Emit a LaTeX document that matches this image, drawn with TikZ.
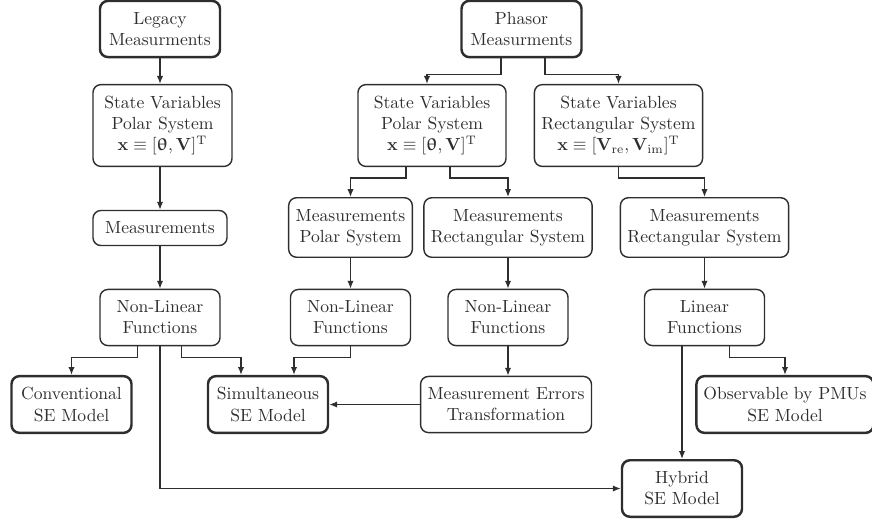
\documentclass[tikz,border=0pt]{standalone}
\usepackage{amsmath}
\usepackage{bm}
\usepackage{upgreek}
\usepackage{tikz}
\usetikzlibrary{arrows.meta, positioning, calc}
\definecolor{linegray}{HTML}{2E2E2E}

\begin{document}
\begin{tikzpicture}[
    flowbox/.style={rectangle, rounded corners=4.5pt, draw=linegray, line width=0.8pt,
                    align=center, minimum width=2.4cm, inner xsep=4pt, inner ysep=6.5pt,
                    text=linegray},
    endbox/.style={flowbox, line width=1.4pt},
    arr/.style={-{Latex[length=4.5pt, width=3.6pt]}, draw=linegray, line width=0.8pt}
]
    \useasboundingbox (0,0) rectangle (17.44,-10.38);

    % Sources
    \node[endbox] (legacy) at (3.20,-0.58) {Legacy\\Measurments};
    \node[endbox] (phasor) at (10.43,-0.58) {Phasor\\Measurments};

    % State variables
    \node[flowbox, minimum width=2.78cm] (spL) at (3.25,-2.51)
        {State Variables\\Polar System\\$\mathbf{x}\equiv[\bm{\uptheta},\mathbf{V}]^{\mathrm{T}}$};
    \node[flowbox, minimum width=2.96cm] (spM) at (8.64,-2.51)
        {State Variables\\Polar System\\$\mathbf{x}\equiv[\bm{\uptheta},\mathbf{V}]^{\mathrm{T}}$};
    \node[flowbox] (srR) at (12.37,-2.51)
        {State Variables\\Rectangular System\\$\mathbf{x}\equiv[\mathbf{V}_{\mathrm{re}},\mathbf{V}_{\mathrm{im}}]^{\mathrm{T}}$};

    % Measurements
    \node[flowbox, minimum width=2.68cm] (mL) at (3.20,-4.56) {Measurements};
    \node[flowbox] (mpM) at (7.01,-4.55) {Measurements\\Polar System};
    \node[flowbox] (mrM) at (10.16,-4.55) {Measurements\\Rectangular System};
    \node[flowbox] (mrR) at (14.09,-4.55) {Measurements\\Rectangular System};

    % Functions
    \node[flowbox] (nlL) at (3.20,-6.35) {Non-Linear\\Functions};
    \node[flowbox] (nlM) at (7.01,-6.35) {Non-Linear\\Functions};
    \node[flowbox] (nlR) at (10.16,-6.35) {Non-Linear\\Functions};
    \node[flowbox] (lin) at (14.09,-6.35) {Linear\\Functions};

    % SE models
    \node[endbox] (conv) at (1.43,-8.09) {Conventional\\SE Model};
    \node[endbox] (sim) at (5.36,-8.09) {Simultaneous\\SE Model};
    \node[flowbox, minimum width=3.4cm] (mer) at (10.12,-8.09) {Measurement Errors\\Transformation};
    \node[endbox] (obs) at (15.70,-8.09) {Observable by PMUs\\SE Model};
    \node[endbox] (hyb) at (13.64,-9.77) {Hybrid\\SE Model};

    % Connectors
    \draw[arr] (legacy.south) -- (legacy.south |- spL.north);
    \draw[arr] (mL.north |- spL.south) -- (mL.north);
    \draw[arr] (mL.south) -- (mL.south |- nlL.north);

    \draw[arr] ([xshift=-0.41cm]phasor.south) -- ++(0,-0.32) -| ([xshift=-0.1cm]spM.north);
    \draw[arr] ([xshift=0.47cm]phasor.south) -- ++(0,-0.32) -| (srR.north);

    \draw[arr] ([xshift=-0.52cm]spM.south) -- ++(0,-0.22) -| (mpM.north);
    \draw[arr] ([xshift=0.36cm]spM.south) -- ++(0,-0.22) -| (mrM.north);
    \draw[arr] (srR.south) -- ++(0,-0.22) -| (mrR.north);

    \draw[arr] (mpM.south) -- (mpM.south |- nlM.north);
    \draw[arr] (mrM.south) -- (mrM.south |- nlR.north);
    \draw[arr] (mrR.south) -- (mrR.south |- lin.north);

    \draw[arr] ([xshift=-0.45cm]nlL.south) -- ++(0,-0.22) -| (conv.north);
    \draw[arr] ([xshift=0.43cm]nlL.south) -- ++(0,-0.22) -| ([xshift=-0.54cm]sim.north);
    \draw[arr] (nlL.south) |- (hyb.west);
    \draw[arr] (nlM.south) -- ++(0,-0.22) -| ([xshift=0.52cm]sim.north);
    \draw[arr] (nlR.south) -- (nlR.south |- mer.north);
    \draw[arr] (mer.west) -- (sim.east);

    \draw[arr] (hyb.north |- lin.south) -- (hyb.north);
    \draw[arr] ([xshift=0.5cm]lin.south) -- ++(0,-0.22) -| (obs.north);

\end{tikzpicture}
\end{document}
